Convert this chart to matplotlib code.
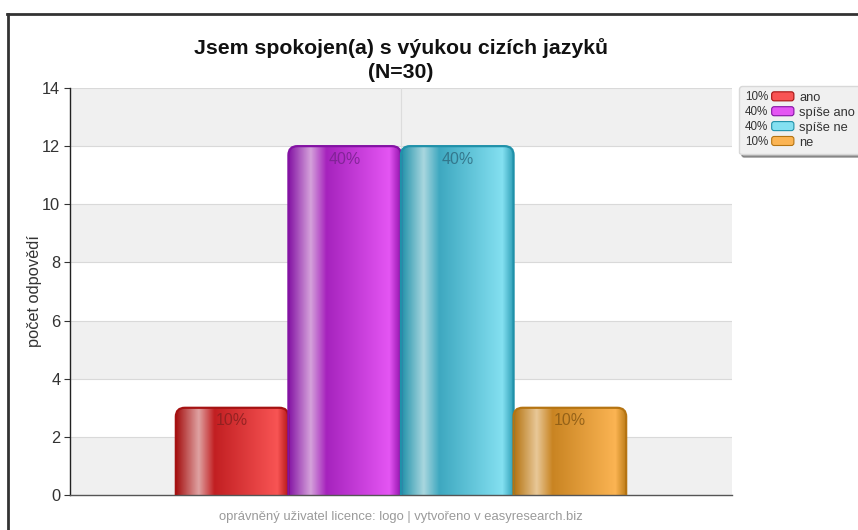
import numpy as np
import matplotlib
matplotlib.use("Agg")
import matplotlib.pyplot as plt
from matplotlib.patches import FancyBboxPatch, Rectangle
from matplotlib.legend_handler import HandlerBase
from matplotlib.colors import to_rgb
from matplotlib.text import Text
from matplotlib.lines import Line2D

plt.rcParams['font.family'] = ['Liberation Sans', 'DejaVu Sans']

# data
answers = ['ano', 'spíše ano', 'spíše ne', 'ne']
counts = [3, 12, 12, 3]
percents = ['10%', '40%', '40%', '10%']
title = 'Jsem spokojen(a) s výukou cizích jazyků\n(N=30)'
ylabel = 'počet odpovědí'
footer = 'oprávněný uživatel licence: logo | vytvořeno v easyresearch.biz'
yticks = [0, 2, 4, 6, 8, 10, 12, 14]

# colour stops across each bar: edge, highlight, dark, light, edge
bar_styles = {
    'ano':       ['#a51212', '#dfa2a2', '#c21f22', '#f85454', '#b31515'],
    'spíše ano': ['#8312a3', '#d5a2db', '#a623bd', '#e455f3', '#9414ad'],
    'spíše ne':  ['#2091a9', '#a9d7df', '#3ea8c0', '#84e0f1', '#2d9fb7'],
    'ne':        ['#b57412', '#e8c898', '#c98422', '#fbb453', '#bb7914'],
}
label_colors = ['#8a2020', '#7a2190', '#2f6d82', '#8a5a14']
stops = [0.0, 0.2, 0.34, 0.9, 1.0]

fig = plt.figure(figsize=(8.58, 5.30), dpi=100)
W, H = 858, 530
ax = fig.add_axes([70 / W, 1 - 495 / H, 662 / W, 407 / H])

x = np.arange(len(answers))
bars = ax.bar(x, counts, width=1.0, color='none', edgecolor='none')

ax.set_ylim(0, 14)
ax.set_xlim(-1.44, 4.44)

# alternating grey bands and grid lines
for lo, hi in zip(yticks[:-1], yticks[1:]):
    if (lo // 2) % 2 == 0:
        ax.axhspan(lo, hi, color='#f0f0f0', zorder=0, lw=0)
for t in yticks[1:]:
    ax.axhline(t, color='#d9d9d9', lw=0.8, zorder=0.5)
ax.axvline(np.mean(x), color='#dcdcdc', lw=0.8, zorder=0.5)

fig.canvas.draw()
p0 = ax.transData.transform((0, 0))
p1 = ax.transData.transform((1, 1))
px_x = p1[0] - p0[0]
px_y = p1[1] - p0[1]
aspect = px_x / px_y
rad = 9 / px_x

for b, name, pct, lc in zip(bars, answers, percents, label_colors):
    bx, bw, bh = b.get_x(), b.get_width(), b.get_height()
    patch = FancyBboxPatch((bx, -1), bw, bh + 1,
                           boxstyle=f'round,pad=0,rounding_size={rad}',
                           mutation_aspect=aspect,
                           facecolor='none', edgecolor=bar_styles[name][0],
                           lw=1.6, zorder=3)
    ax.add_patch(patch)
    cols = np.array([to_rgb(c) for c in bar_styles[name]])
    xs = np.linspace(0, 1, 200)
    grad = np.stack([np.interp(xs, stops, cols[:, k]) for k in range(3)], axis=-1)
    grad = grad[np.newaxis, :, :]
    im = ax.imshow(grad, extent=(bx, bx + bw, -1, bh), aspect='auto',
                   zorder=2, interpolation='bilinear')
    im.set_clip_path(patch)
    ax.text(bx + bw / 2, bh - 13 / px_y, pct, ha='center', va='center',
            fontsize=11.5, color=lc, alpha=0.85, zorder=4)

ax.set_xlim(-1.44, 4.44)
ax.set_ylim(0, 14)
ax.set_yticks(yticks)
ax.set_xticks([])
ax.tick_params(axis='y', length=4, width=0.8, color='#333333',
               labelsize=11.8, labelcolor='#333333', pad=3)
for s in ['top', 'right']:
    ax.spines[s].set_visible(False)
ax.spines['left'].set_color('#222222')
ax.spines['left'].set_linewidth(1.0)
ax.spines['bottom'].set_color('#555555')
ax.spines['bottom'].set_linewidth(1.0)
ax.set_ylabel(ylabel, fontsize=11.8, color='#333333')
ax.yaxis.set_label_coords((42 - 70) / 662, 0.5)

fig.text(401 / W, 1 - 60 / H, title, ha='center', va='center',
         fontsize=15.3, fontweight='bold', color='#111111', linespacing=1.3)
fig.text(401 / W, 1 - 517 / H, footer, ha='center', va='center',
         fontsize=9.4, color='#9a9a9a')

# outer frame lines
fig.add_artist(Line2D([7 / W, 857 / W], [1 - 14 / H, 1 - 14 / H],
                      transform=fig.transFigure, color='#333333', lw=2))
fig.add_artist(Line2D([8 / W, 8 / W], [1 - 14 / H, 0],
                      transform=fig.transFigure, color='#333333', lw=2))


class PctHandler(HandlerBase):
    def __init__(self, pct, face, edge):
        super().__init__()
        self.pct = pct
        self.face = face
        self.edge = edge

    def create_artists(self, legend, orig_handle, xdescent, ydescent,
                       width, height, fontsize, trans):
        t = Text(-xdescent, -ydescent + height / 2 - 0.5, self.pct,
                 ha='left', va='center', fontsize=fontsize * 0.9,
                 color='#333333')
        t.set_transform(trans)
        pw, ph = 16, 6.5
        r = FancyBboxPatch((-xdescent + width - pw, -ydescent + height / 2 - ph / 2),
                           pw, ph, boxstyle='round,pad=0,rounding_size=1.8',
                           facecolor=self.face, edgecolor=self.edge, lw=0.8,
                           transform=trans)
        return [t, r]


handles = [Rectangle((0, 0), 1, 1) for _ in answers]
hmap = {h: PctHandler(p, bar_styles[n][3], bar_styles[n][0])
        for h, p, n in zip(handles, percents, answers)}
leg = fig.legend(handles, answers, handler_map=hmap,
                 loc='upper left', bbox_to_anchor=(739 / W, 1 - 86 / H),
                 fontsize=9.3, handlelength=3.8, handletextpad=0.4,
                 labelspacing=0.22, borderpad=0.45, borderaxespad=0,
                 fancybox=True, shadow=True,
                 framealpha=1, facecolor='#f0f0f0', edgecolor='#d8d8d8',
                 labelcolor='#333333')

fig.savefig('out.png', dpi=100)
